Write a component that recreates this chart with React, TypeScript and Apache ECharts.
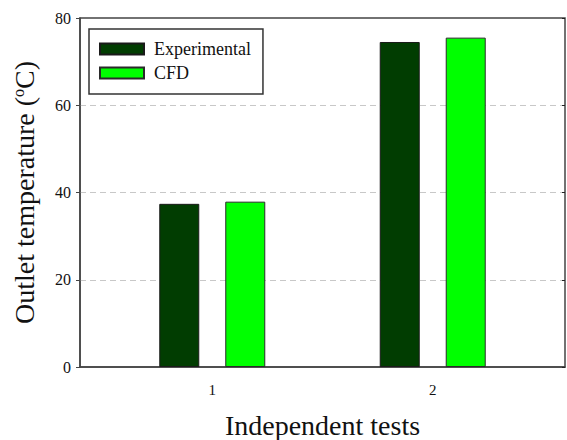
import React, { useEffect, useRef } from "react";
import * as echarts from "echarts";

const tests = [1, 2];
const experimental = [37.4, 74.5];
const cfd = [37.9, 75.5];
const yTicks = [0, 20, 40, 60, 80];

const FONT = "'Liberation Serif', 'Times New Roman', serif";

export default function App() {
  const ref = useRef<HTMLDivElement>(null);
  useEffect(() => {
    if (!ref.current) return;
    const chart = echarts.init(ref.current, undefined, { renderer: "svg" });
    const isInt = (v: number) => Math.abs(v - Math.round(v)) < 1e-6;
    chart.setOption({
      animation: false,
      backgroundColor: "#ffffff",
      textStyle: { fontFamily: FONT },
      grid: {
        left: 80,
        right: 2,
        top: 18,
        bottom: 73,
        outerBoundsMode: "none",
        containLabel: false,
        show: true,
        borderColor: "#444",
        borderWidth: 1.5,
      },
      legend: {
        left: 89,
        top: 29,
        orient: "vertical",
        icon: "rect",
        itemWidth: 44,
        itemHeight: 11,
        itemGap: 6,
        padding: [11, 12, 12, 10],
        borderColor: "#333",
        borderWidth: 1.5,
        textStyle: { fontFamily: FONT, fontSize: 18, color: "#111", padding: [0, 0, 0, 5] },
        data: ["Experimental", "CFD"],
      },
      xAxis: {
        type: "value",
        min: 0.4,
        max: 2.6,
        interval: 0.2,
        name: "Independent tests",
        nameLocation: "middle",
        nameGap: 44,
        nameTextStyle: { fontFamily: FONT, fontSize: 28, color: "#111" },
        axisLine: { show: true, lineStyle: { color: "#444", width: 1.5 } },
        axisTick: { show: false },
        splitLine: { show: false },
        axisLabel: {
          fontFamily: FONT,
          fontSize: 15,
          color: "#111",
          margin: 15,
          formatter: (v: number) =>
            isInt(v) && tests.includes(Math.round(v)) ? String(Math.round(v)) : "",
        },
      },
      yAxis: [
        {
          type: "value",
          min: yTicks[0],
          max: yTicks[yTicks.length - 1],
          interval: 20,
          name: "{a|Outlet temperature (}{s|o}{a|C)}",
          nameLocation: "middle",
          nameGap: 42,
          nameTextStyle: {
            rich: {
              a: { fontFamily: FONT, fontSize: 28, color: "#111" },
              s: { fontFamily: FONT, fontSize: 16, color: "#111", verticalAlign: "top", padding: [0, 0, 10, 0] },
            },
          },
          axisLine: { show: true, lineStyle: { color: "#444", width: 1.5 } },
          axisTick: { show: true, inside: false, length: 4, lineStyle: { color: "#444" } },
          axisLabel: { fontFamily: FONT, fontSize: 16, color: "#111", margin: 9 },
          splitLine: {
            show: true,
            showMinLine: false,
            showMaxLine: false,
            lineStyle: { color: "#c8c8c8", type: [6, 4], width: 1 },
          },
        },
        {
          type: "value",
          position: "right",
          min: yTicks[0],
          max: yTicks[yTicks.length - 1],
          interval: 20,
          axisLine: { show: false },
          axisTick: { show: true, inside: true, length: 3, lineStyle: { color: "#222" } },
          axisLabel: { show: false },
          splitLine: { show: false },
        },
      ],
      series: [
        {
          name: "Experimental",
          type: "bar",
          barWidth: 40,
          barGap: "65%",
          itemStyle: { color: "#013d01", borderColor: "#1a1a1a", borderWidth: 1 },
          data: tests.map((t, i) => [t, experimental[i]]),
        },
        {
          name: "CFD",
          type: "bar",
          barWidth: 40,
          barGap: "65%",
          itemStyle: { color: "#00ff00", borderColor: "#2a2a2a", borderWidth: 1 },
          data: tests.map((t, i) => [t, cfd[i]]),
        },
      ],
    });
    return () => chart.dispose();
  }, []);
  return (
    <div
      ref={ref}
      style={{ position: "fixed", left: 0, top: 0, width: 567, height: 440, background: "#fff" }}
    />
  );
}
